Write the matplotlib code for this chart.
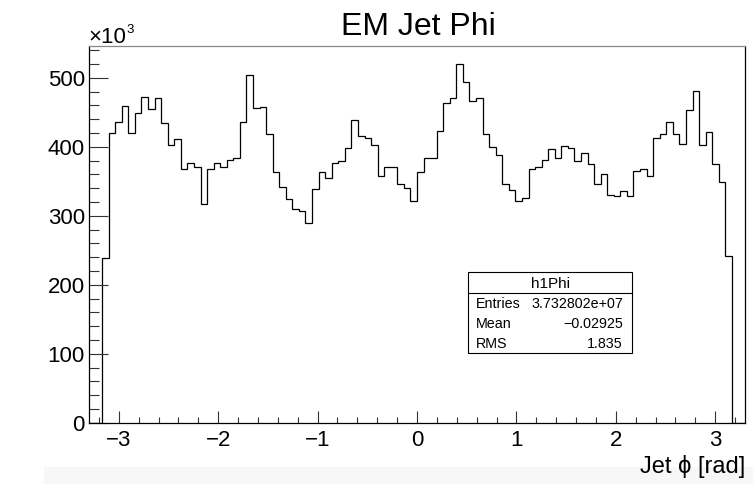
import numpy as np
import matplotlib
matplotlib.use("Agg")
import matplotlib.pyplot as plt
from matplotlib.patches import Rectangle
from matplotlib.lines import Line2D
from matplotlib.ticker import MultipleLocator, FixedLocator

plt.rcParams["font.family"] = ["Liberation Sans", "DejaVu Sans"]

# Jet phi histogram: 100 bins over [-3.3, 3.3], bin contents in units of 10^3
n_bins = 100
phi_min, phi_max = -3.3, 3.3
counts_k = [
    0, 0, 238, 420, 436, 459, 420, 449, 472, 455,
    470, 435, 403, 411, 368, 377, 370, 317, 368, 377,
    370, 381, 384, 436, 504, 456, 457, 419, 364, 342,
    324, 310, 307, 290, 339, 364, 355, 376, 380, 398,
    439, 415, 412, 403, 358, 370, 371, 346, 340, 321,
    364, 383, 384, 423, 463, 470, 520, 494, 466, 470,
    418, 399, 388, 346, 338, 322, 326, 368, 370, 381,
    396, 383, 401, 398, 379, 391, 375, 346, 360, 330,
    328, 336, 329, 365, 367, 358, 413, 419, 436, 418,
    404, 453, 481, 403, 421, 375, 349, 242, 0, 0,
]
y_max = 546

title = "EM Jet Phi"
x_label = "Jet \u03d5 [rad]"
y_scale_label = "\u00d710"
y_scale_exp = "3"
hist_name = "h1Phi"
stat_labels = ["Entries", "Mean", "RMS"]
stat_values = ["3.732802e+07", "\u22120.02925", "1.835"]
x_ticks = [-3, -2, -1, 0, 1, 2, 3]
y_ticks = [0, 100, 200, 300, 400, 500]

W, H = 753, 484
fig = plt.figure(figsize=(W / 100, H / 100), dpi=100)
fig.patch.set_facecolor("white")


def fx(px):
    return px / W


def fy(py):
    return 1 - py / H


# light strip along the bottom edge
fig.add_artist(Rectangle((fx(44), 0), 1 - fx(44), fy(467),
                         transform=fig.transFigure, facecolor="#f7f7f7",
                         edgecolor="none", zorder=0))

ax = fig.add_axes([fx(89), fy(422.7), fx(745) - fx(89), fy(46) - fy(422.7)])
ax.set_facecolor("white")

edges = np.linspace(phi_min, phi_max, n_bins + 1)
ax.stairs(counts_k, edges, color="black", linewidth=0.9, baseline=0)

ax.set_xlim(phi_min, phi_max)
ax.set_ylim(0, y_max)

ax.xaxis.set_major_locator(FixedLocator(x_ticks))
ax.xaxis.set_minor_locator(MultipleLocator(0.2))
ax.yaxis.set_major_locator(FixedLocator(y_ticks))
ax.yaxis.set_minor_locator(MultipleLocator(20))
ax.set_xticklabels([f"{t}".replace("-", "\u2212") for t in x_ticks])
ax.set_yticklabels([str(t) for t in y_ticks])

ax.tick_params(axis="both", which="both", direction="in", color="#333333",
               width=0.8, top=False, right=False, labelsize=16)
ax.tick_params(axis="y", which="major", length=13.7, pad=3)
ax.tick_params(axis="y", which="minor", length=7.2)
ax.tick_params(axis="x", which="major", length=8.6, pad=5)
ax.tick_params(axis="x", which="minor", length=4.3)

for side in ("left", "bottom", "right", "top"):
    ax.spines[side].set_linewidth(0.9)
    ax.spines[side].set_color("black")
ax.spines["top"].set_color("#888888")

# title, axis title and exponent marker
fig.text(fx(418.5), fy(35), title, ha="center", va="baseline", fontsize=23)
fig.text(fx(745), fy(473), x_label, ha="right", va="baseline", fontsize=17)
fig.text(fx(88), fy(42.7), y_scale_label, ha="left", va="baseline", fontsize=16)
fig.text(fx(126), fy(33), y_scale_exp, ha="left", va="baseline", fontsize=9.5)

# statistics box
bx0, bx1, by0, by1 = 467.7, 632.3, 272.3, 353.3
fig.add_artist(Rectangle((fx(bx0), fy(by1)), fx(bx1) - fx(bx0), fy(by0) - fy(by1),
                         transform=fig.transFigure, facecolor="white",
                         edgecolor="black", linewidth=0.8, zorder=5))
fig.add_artist(Line2D([fx(bx0), fx(bx1)], [fy(293.3), fy(293.3)],
                      transform=fig.transFigure, color="black",
                      linewidth=0.8, zorder=6))
fig.text(fx((bx0 + bx1) / 2), fy(288.3), hist_name, ha="center",
         va="baseline", fontsize=11, zorder=7)
row_baselines = [308.3, 328.3, 348.3]
for lab, val, yb in zip(stat_labels, stat_values, row_baselines):
    fig.text(fx(476), fy(yb), lab, ha="left", va="baseline",
             fontsize=10.3, zorder=7)
    fig.text(fx(623), fy(yb), val, ha="right", va="baseline",
             fontsize=10.3, zorder=7)

fig.savefig("out.png", dpi=100, facecolor="white")
